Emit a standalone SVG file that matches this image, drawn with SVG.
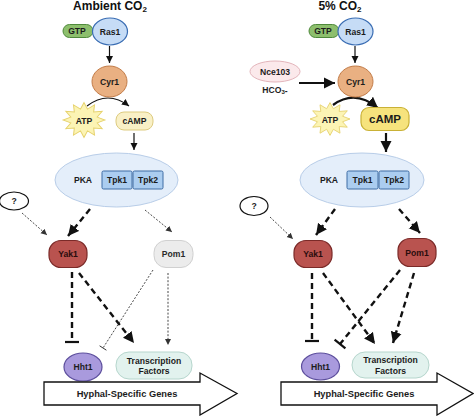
<svg xmlns="http://www.w3.org/2000/svg" xmlns:xlink="http://www.w3.org/1999/xlink" width="474" height="416" viewBox="0 0 474 416">
<style>
text{font-family:"Liberation Sans",Arial,sans-serif;font-weight:bold;fill:#1c1c1c;text-anchor:middle;dominant-baseline:central}
.title{font-size:12px;fill:#111}
.lbl{font-size:8.6px}
.gtp{fill:#8dbf6d;stroke:#4f8a3b;stroke-width:1}
.ras{fill:#c6dcf6;stroke:#3a6db3;stroke-width:1.2}
.cyr{fill:#e9b082;stroke:#c27b47;stroke-width:1}
.atp{fill:#fcf4b4;stroke:#e6d26e;stroke-width:1}
.pka{fill:#e4eefa;stroke:#b8cde8;stroke-width:1}
.tpk{fill:#abcdf0;stroke:#3e6ca4;stroke-width:1}
.yak{fill:#b9534f;stroke:#7b2a28;stroke-width:1.2}
.pomg{fill:#ececec;stroke:#d0d0d0;stroke-width:1}
.hht{fill:#a99add;stroke:#5d4f9d;stroke-width:1.2}
.tf{fill:#e2f2ee;stroke:#b6d6cd;stroke-width:1}
.q{fill:#fff;stroke:#111;stroke-width:1.2}
.big{fill:#fff;stroke:#111;stroke-width:1.3}
.thin{fill:none;stroke:#111;stroke-width:1.2}
.solid2{fill:none;stroke:#111;stroke-width:2.2}
.dash{fill:none;stroke:#111;stroke-width:2.4;stroke-dasharray:6 4}
.dot{fill:none;stroke:#333;stroke-width:0.9;stroke-dasharray:2 1.6}
.bar{fill:none;stroke:#111;stroke-width:2.2}
.bart{fill:none;stroke:#333;stroke-width:1}
</style>
<defs>
<marker id="ah" markerUnits="userSpaceOnUse" markerWidth="8" markerHeight="8" refX="7" refY="4" orient="auto"><path d="M0,0.5 L7,4 L0,7.5 Z" fill="#111"/></marker>
<marker id="ahb" markerUnits="userSpaceOnUse" markerWidth="12" markerHeight="12" refX="11" refY="6" orient="auto"><path d="M0,0.5 L11,6 L0,11.5 Z" fill="#111"/></marker>
<marker id="ahs" markerUnits="userSpaceOnUse" markerWidth="7" markerHeight="7" refX="6" refY="3.5" orient="auto"><path d="M0,0.5 L6,3.5 L0,6.5 Z" fill="#333"/></marker>
<polygon id="star" points="0,-20 3.36,-12.56 10,-17.32 9.19,-9.19 17.32,-10 12.56,-3.36 20,0 12.56,3.36 17.32,10 9.19,9.19 10,17.32 3.36,12.56 0,20 -3.36,12.56 -10,17.32 -9.19,9.19 -17.32,10 -12.56,3.36 -20,0 -12.56,-3.36 -17.32,-10 -9.19,-9.19 -10,-17.32 -3.36,-12.56"/>
</defs>

<text class="title" x="110" y="6">Ambient CO<tspan font-size="8" dy="2.5">2</tspan></text>
<text class="title" x="340" y="6">5% CO<tspan font-size="8" dy="2.5">2</tspan></text>

<g id="connectors">
<!-- left -->
<line class="thin" x1="109.5" y1="46" x2="109.5" y2="63" marker-end="url(#ah)"/>
<path class="thin" d="M87,106 Q108,90 129,106" marker-end="url(#ah)"/>
<line class="thin" x1="134" y1="133" x2="134" y2="150" marker-end="url(#ah)"/>
<line class="dot" x1="22" y1="213" x2="47" y2="235" marker-end="url(#ahs)"/>
<line class="dash" x1="90" y1="209" x2="68" y2="236" marker-end="url(#ahb)"/>
<line class="dot" x1="145" y1="210" x2="172" y2="232" marker-end="url(#ahs)"/>
<line class="dash" x1="72" y1="272" x2="72" y2="342"/>
<line class="bar" x1="65" y1="342" x2="79" y2="342"/>
<line class="dash" x1="79" y1="273" x2="134" y2="343" marker-end="url(#ahb)"/>
<line class="dot" x1="153" y1="270" x2="103" y2="348"/>
<line class="bart" x1="99.6" y1="345.8" x2="106.4" y2="350.2"/>
<line class="dot" x1="168" y1="273" x2="168" y2="345" marker-end="url(#ahs)"/>
<!-- right -->
<line class="thin" x1="355" y1="46" x2="355" y2="63" marker-end="url(#ah)"/>
<line class="solid2" x1="299" y1="83" x2="335" y2="83" marker-end="url(#ahb)"/>
<path class="solid2" d="M333,105 Q355,89 378,108" marker-end="url(#ahb)"/>
<line class="solid2" x1="386" y1="133" x2="386" y2="152" marker-end="url(#ahb)"/>
<line class="dot" x1="270" y1="217" x2="293" y2="239" marker-end="url(#ahs)"/>
<line class="dash" x1="335" y1="209" x2="316" y2="235" marker-end="url(#ahb)"/>
<line class="dash" x1="399" y1="209" x2="420" y2="233" marker-end="url(#ahb)"/>
<line class="dash" x1="312" y1="273" x2="312" y2="341"/>
<line class="bar" x1="305" y1="341" x2="319" y2="341"/>
<line class="dash" x1="323" y1="273" x2="375" y2="344" marker-end="url(#ahb)"/>
<line class="dash" x1="400" y1="270" x2="340" y2="344"/>
<line class="bar" x1="334.6" y1="339.6" x2="345.4" y2="348.4"/>
<line class="dash" x1="414" y1="273" x2="393" y2="343" marker-end="url(#ahb)"/>
</g>

<!-- left panel nodes -->
<g id="gtp-l"><rect class="gtp" x="63" y="24.5" width="30" height="13" rx="6.5"/><text class="lbl" x="77" y="31">GTP</text></g>
<g id="ras1-l"><ellipse class="ras" cx="110" cy="31.5" rx="17.5" ry="13.5"/><text class="lbl" x="110" y="31.5">Ras1</text></g>
<g id="cyr1-l"><ellipse class="cyr" cx="109.5" cy="81.5" rx="17.5" ry="15.5"/><text class="lbl" x="109.5" y="81.5">Cyr1</text></g>
<g id="atp-l"><use xlink:href="#star" class="atp" transform="translate(84,120) scale(1.05,0.87)"/><text class="lbl" x="84" y="121">ATP</text></g>
<g id="camp-l"><rect class="atp" x="116" y="112" width="37" height="18" rx="8" style="fill:#f9f0c6;stroke:#ddcb80"/><text class="lbl" x="134.5" y="121">cAMP</text></g>
<g id="pka-l"><ellipse class="pka" cx="116.5" cy="180" rx="61.5" ry="27"/><text class="lbl" x="83" y="180">PKA</text>
<rect class="tpk" x="102" y="171" width="30" height="18" rx="1.5"/><text class="lbl" x="117" y="180">Tpk1</text>
<rect class="tpk" x="133" y="171" width="30" height="18" rx="1.5"/><text class="lbl" x="148" y="180">Tpk2</text></g>
<g id="q-l"><ellipse class="q" cx="14" cy="201" rx="14.5" ry="9"/><text class="lbl" x="14" y="201">?</text></g>
<g id="yak1-l"><rect class="yak" x="49" y="240.5" width="38" height="27" rx="12"/><text class="lbl" x="68" y="254" style="fill:#2a0d0d">Yak1</text></g>
<g id="pom1-l"><rect class="pomg" x="154" y="240.5" width="39" height="27" rx="12"/><text class="lbl" x="173.5" y="254" style="fill:#2a2a2a">Pom1</text></g>
<g id="hht1-l"><ellipse class="hht" cx="83" cy="367" rx="19" ry="14"/><text class="lbl" x="83" y="367">Hht1</text></g>
<g id="tf-l"><rect class="tf" x="116" y="352" width="76" height="27" rx="13"/><text class="lbl" x="154" y="360.5">Transcription</text><text class="lbl" x="154" y="371">Factors</text></g>
<g id="genes-l"><path class="big" d="M44,382 H200 V373 L237,393.5 L200,415 V405 H44 Z"/><text x="127" y="393.5" style="font-size:9.3px">Hyphal-Specific Genes</text></g>

<!-- right panel nodes -->
<g id="gtp-r"><rect class="gtp" x="309" y="24.5" width="30" height="13" rx="6.5"/><text class="lbl" x="323" y="31">GTP</text></g>
<g id="ras1-r"><ellipse class="ras" cx="355.5" cy="31.5" rx="17.5" ry="13.5"/><text class="lbl" x="355.5" y="31.5">Ras1</text></g>
<g id="nce103"><ellipse cx="275" cy="71.5" rx="25" ry="10.5" style="fill:#fbe9eb;stroke:#e3b5bb;stroke-width:1"/><text class="lbl" x="275" y="71.5">Nce103</text></g>
<text class="lbl" x="275" y="90">HCO<tspan font-size="6" dy="2">3</tspan><tspan dy="-1">-</tspan></text>
<g id="cyr1-r"><ellipse class="cyr" cx="355.5" cy="81.5" rx="17.5" ry="15.5"/><text class="lbl" x="355.5" y="81.5">Cyr1</text></g>
<g id="atp-r"><use xlink:href="#star" class="atp" transform="translate(330,119) scale(1.0,0.82)"/><text class="lbl" x="330" y="120">ATP</text></g>
<g id="camp-r"><rect x="361" y="107.5" width="48" height="23" rx="8" style="fill:#f6e37d;stroke:#c9b136;stroke-width:1.2"/><text x="385" y="119" style="font-size:11.5px">cAMP</text></g>
<g id="pka-r"><ellipse class="pka" cx="362" cy="180" rx="62" ry="27"/><text class="lbl" x="329" y="180">PKA</text>
<rect class="tpk" x="347" y="171" width="31" height="18" rx="1.5"/><text class="lbl" x="362.5" y="180">Tpk1</text>
<rect class="tpk" x="379" y="171" width="30" height="18" rx="1.5"/><text class="lbl" x="394" y="180">Tpk2</text></g>
<g id="q-r"><ellipse class="q" cx="254" cy="206" rx="14" ry="9.5"/><text class="lbl" x="254" y="206">?</text></g>
<g id="yak1-r"><rect class="yak" x="294" y="240.5" width="38" height="27" rx="12"/><text class="lbl" x="313" y="254" style="fill:#2a0d0d">Yak1</text></g>
<g id="pom1-r"><rect class="yak" x="398" y="238.5" width="38" height="28" rx="12"/><text class="lbl" x="417" y="252.5" style="fill:#2a0d0d">Pom1</text></g>
<g id="hht1-r"><ellipse class="hht" cx="320.5" cy="366.5" rx="19" ry="13.5"/><text class="lbl" x="320.5" y="366.5">Hht1</text></g>
<g id="tf-r"><rect class="tf" x="352" y="352" width="77" height="26" rx="13"/><text class="lbl" x="390.5" y="360">Transcription</text><text class="lbl" x="390.5" y="370.5">Factors</text></g>
<g id="genes-r"><path class="big" d="M281,382 H437 V373 L473,393.5 L437,415 V405 H281 Z"/><text x="364" y="393.5" style="font-size:9.3px">Hyphal-Specific Genes</text></g>
</svg>
